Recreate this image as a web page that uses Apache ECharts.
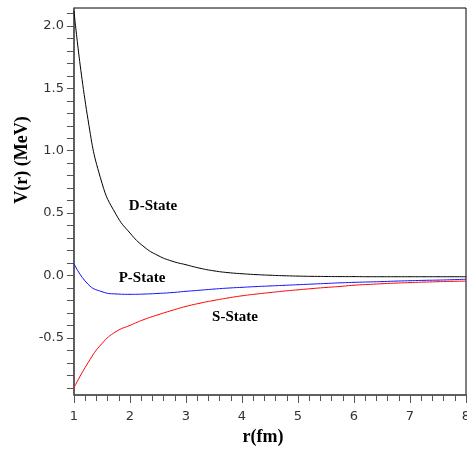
<!DOCTYPE html>
<html>
<head>
<meta charset="utf-8">
<script src="https://cdn.jsdelivr.net/npm/echarts@6/dist/echarts.min.js"></script>
<style>
  html, body { margin: 0; padding: 0; background: #fff; }
  #main { width: 467px; height: 457px; }
</style>
</head>
<body>
<div id="main"></div>
<script>
// r 的取样点 (fm)
var rValues = [1, 1.25, 1.5, 1.75, 2, 2.25, 2.5, 2.75, 3, 3.25, 3.5, 3.75, 4, 4.25, 4.5, 4.75, 5, 5.25, 5.5, 5.75, 6, 6.25, 6.5, 6.75, 7, 7.25, 7.5, 7.75, 8];
// 三个态的势 V(r) (MeV)
var dState = [2.12, 1.25, 0.74, 0.49, 0.34, 0.23, 0.16, 0.115, 0.086, 0.058, 0.037, 0.023, 0.014, 0.007, 0.002, -0.002, -0.005, -0.007, -0.008, -0.009, -0.009, -0.01, -0.01, -0.01, -0.01, -0.01, -0.01, -0.01, -0.01];
var pState = [0.095, -0.07, -0.13, -0.148, -0.151, -0.149, -0.144, -0.137, -0.127, -0.118, -0.109, -0.101, -0.095, -0.089, -0.084, -0.079, -0.074, -0.069, -0.064, -0.059, -0.055, -0.052, -0.049, -0.045, -0.042, -0.039, -0.037, -0.034, -0.03];
var sState = [-0.90, -0.70, -0.545, -0.45, -0.40, -0.353, -0.315, -0.28, -0.248, -0.222, -0.20, -0.18, -0.163, -0.149, -0.137, -0.125, -0.115, -0.105, -0.096, -0.088, -0.078, -0.072, -0.066, -0.061, -0.057, -0.053, -0.05, -0.047, -0.045];
// 坐标轴刻度
var yTickLabels = [-0.5, 0, 0.5, 1, 1.5, 2];
var yMinorTicks = [];
for (var i = -9; i <= 21; i++) { yMinorTicks.push(i / 10); }

function pairs(vals) {
    return rValues.map(function (r, k) { return [r, vals[k]]; });
}

var labelFont = 'bold 15px "Liberation Serif"';
var myChart = echarts.init(document.getElementById('main'));
var option = {
    animation: false,
    grid: {
        left: 74, right: 1, top: 8, bottom: 62,
        outerBoundsMode: 'none',
        show: true, borderColor: '#000', borderWidth: 1
    },
    xAxis: {
        type: 'value',
        min: 1, max: 8, interval: 1,
        axisLine: { onZero: false, lineStyle: { color: '#555', width: 1.5 } },
        axisTick: { length: 8, lineStyle: { color: '#555' } },
        minorTick: { show: true, splitNumber: 5, length: 6, lineStyle: { color: '#555' } },
        splitLine: { show: false },
        axisLabel: { color: '#333', fontFamily: 'DejaVu Sans', fontSize: 13, margin: 15, hideOverlap: false }
    },
    yAxis: {
        type: 'value',
        min: -0.958, max: 2.144,
        axisLine: { show: true, onZero: false, lineStyle: { color: '#555', width: 1.5 } },
        axisTick: { show: true, length: 7, customValues: yMinorTicks, lineStyle: { color: '#555' } },
        splitLine: { show: false },
        axisLabel: {
            customValues: yTickLabels,
            color: '#333', fontFamily: 'DejaVu Sans', fontSize: 13, margin: 10,
            formatter: function (v) { return v.toFixed(1); }
        }
    },
    series: [
        { name: 'D-State', type: 'line', smooth: 0.5, symbol: 'none', data: pairs(dState), lineStyle: { color: '#000', width: 1 } },
        { name: 'P-State', type: 'line', smooth: 0.5, symbol: 'none', data: pairs(pState), lineStyle: { color: '#1010ff', width: 1 } },
        { name: 'S-State', type: 'line', smooth: 0.5, symbol: 'none', data: pairs(sState), lineStyle: { color: '#ff0000', width: 1 } }
    ],
    graphic: [
        { type: 'text', x: 153, y: 206, style: { text: 'D-State', font: labelFont, fill: '#000', align: 'center', verticalAlign: 'middle' } },
        { type: 'text', x: 142, y: 278, style: { text: 'P-State', font: labelFont, fill: '#000', align: 'center', verticalAlign: 'middle' } },
        { type: 'text', x: 235, y: 317, style: { text: 'S-State', font: labelFont, fill: '#000', align: 'center', verticalAlign: 'middle' } },
        { type: 'text', x: 263, y: 437, style: { text: 'r(fm)', font: 'bold 18px "Liberation Serif"', fill: '#000', align: 'center', verticalAlign: 'middle' } },
        { type: 'text', x: 22, y: 160, rotation: Math.PI / 2, style: { text: 'V(r) (MeV)', font: 'bold 18px "Liberation Serif"', fill: '#000', align: 'center', verticalAlign: 'middle' } }
    ]
};
myChart.setOption(option);
</script>
</body>
</html>
